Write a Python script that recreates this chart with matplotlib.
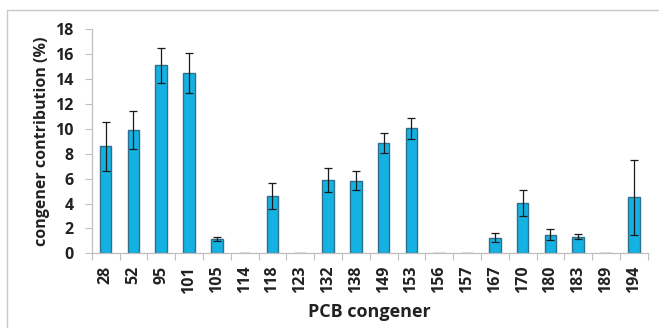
import matplotlib.pyplot as plt
import matplotlib.patches as mpatches
import numpy as np

# ---------------------------------------------------------------------------
# Data
# ---------------------------------------------------------------------------

congeners = ["28", "52", "95", "101", "105", "114", "118", "123", "132", "138",
             "149", "153", "156", "157", "167", "170", "180", "183", "189", "194"]
contribution = [8.6, 9.9, 15.1, 14.5, 1.15, 0.0, 4.6, 0.05, 5.9, 5.85,
                8.85, 10.05, 0.05, 0.05, 1.25, 4.05, 1.5, 1.35, 0.05, 4.5]
errors = [1.97, 1.5, 1.43, 1.6, 0.18, 0.0, 1.03, 0.0, 0.97, 0.8,
          0.78, 0.85, 0.0, 0.0, 0.36, 1.03, 0.45, 0.23, 0.0, 3.0]
yticks = [0, 2, 4, 6, 8, 10, 12, 14, 16, 18]

BAR_COLOR = "#14B1E3"
EDGE_COLOR = "#2E6F8A"
FONT = "Open Sans"

# ---------------------------------------------------------------------------
# Plot
# ---------------------------------------------------------------------------

plt.rcParams["font.family"] = [FONT, "DejaVu Sans"]
plt.rcParams["font.weight"] = "bold"

fig = plt.figure(figsize=(6.59, 3.28), dpi=100)
ax = fig.add_axes([91.7 / 659, 1 - 253.3 / 328, (647.7 - 91.7) / 659, (253.3 - 29.3) / 328])

x = np.arange(len(congeners))
ax.bar(x, contribution, width=0.42, color=BAR_COLOR, edgecolor=EDGE_COLOR,
       linewidth=1.0, zorder=2)
err_idx = [i for i, e in enumerate(errors) if e > 0]
ax.errorbar([x[i] for i in err_idx], [contribution[i] for i in err_idx],
            yerr=[errors[i] for i in err_idx], fmt="none", ecolor="#1a1a1a",
            elinewidth=0.9, capsize=3, capthick=0.9, zorder=3)

ax.set_xlim(-0.5, len(congeners) - 0.5)
ax.set_ylim(0, 18)
ax.set_yticks(yticks)
ax.set_yticklabels([str(t) for t in yticks], fontsize=11.5, fontweight="bold",
                   color="#222222")

ax.set_xticks(x)
ax.set_xticklabels(congeners, rotation=90, fontsize=11.5, fontweight="bold",
                   color="#222222")
ax.tick_params(axis="x", length=0, pad=9)
ax.set_xticks(np.arange(-0.5, len(congeners), 1.0), minor=True)
ax.tick_params(axis="x", which="minor", length=5, color="#bfbfbf", width=0.8)
ax.tick_params(axis="y", length=5, color="#bfbfbf", width=0.8, pad=8)

for side in ["top", "right"]:
    ax.spines[side].set_visible(False)
for side in ["left", "bottom"]:
    ax.spines[side].set_color("#bfbfbf")
    ax.spines[side].set_linewidth(0.9)

ax.set_ylabel("congener contribution (%)", fontsize=11.5, fontweight="bold",
              color="#222222", labelpad=4)
ax.set_xlabel("PCB congener", fontsize=13, fontweight="bold",
              color="#222222", labelpad=7)

# outer chart border (partially cropped in the reference)
border = mpatches.Rectangle((7.3 / 659, -0.1), 1.0, 1.0 - 10 / 328 + 0.1,
                            transform=fig.transFigure, fill=False,
                            edgecolor="#c8c8c8", linewidth=1.0)
fig.patches.append(border)

fig.savefig("out.png", dpi=100)
